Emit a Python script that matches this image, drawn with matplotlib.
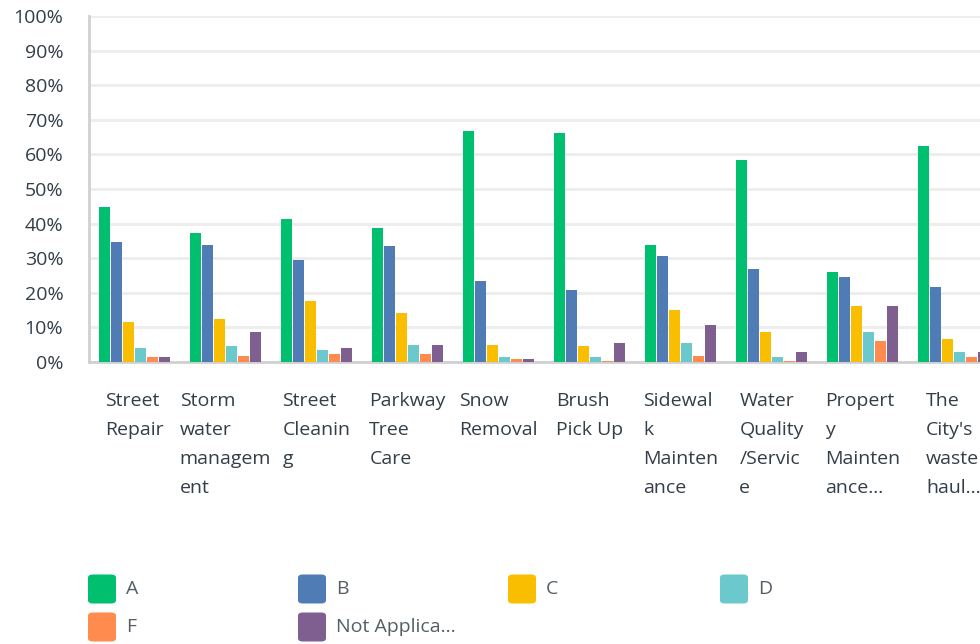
import matplotlib
matplotlib.use("Agg")
import matplotlib.pyplot as plt
import numpy as np
from matplotlib.patches import FancyBboxPatch

categories = ["Street\nRepair", "Storm\nwater\nmanagem\nent", "Street\nCleanin\ng",
              "Parkway\nTree\nCare", "Snow\nRemoval", "Brush\nPick Up",
              "Sidewal\nk\nMainten\nance", "Water\nQuality\n/Servic\ne",
              "Propert\ny\nMainten\nance…", "The\nCity's\nwaste\nhaul…"]
series_names = ["A", "B", "C", "D", "F", "Not Applica…"]
A = [44.9, 37.4, 41.2, 38.6, 66.8, 66.3, 33.7, 58.5, 25.9, 62.5]
B = [34.8, 33.7, 29.6, 33.4, 23.3, 20.7, 30.5, 27.0, 24.7, 21.8]
C = [11.7, 12.3, 17.5, 14.3, 4.8, 4.6, 14.9, 8.6, 16.3, 6.6]
D = [4.0, 4.6, 3.4, 4.8, 1.4, 1.4, 5.4, 1.4, 8.6, 2.9]
F = [1.4, 1.7, 2.3, 2.3, 0.8, 0.2, 1.7, 0.2, 6.0, 1.4]
NA = [1.4, 8.6, 4.0, 4.8, 0.8, 5.4, 10.6, 2.9, 16.1, 2.9]
yticks = [0, 10, 20, 30, 40, 50, 60, 70, 80, 90, 100]
colors = ["#00bf6f", "#507cb6", "#f9be00", "#6bc8cd", "#ff8b4f", "#7f5f90"]

plt.rcParams['font.family'] = ['Open Sans', 'DejaVu Sans']
fig = plt.figure(figsize=(9.8, 6.44), dpi=100)
W, H = 980, 644
ax = fig.add_axes([89 / W, 1 - 362 / H, 910 / W, 346 / H])

data = [A, B, C, D, F, NA]
x = np.arange(len(categories))
pitch = 0.13
width = 0.12
for i, (vals, col) in enumerate(zip(data, colors)):
    ax.bar(x + (i - 2.5) * pitch, vals, width=width, color=col, zorder=3)

ax.set_xlim(-0.5, len(categories) - 0.5)
ax.set_ylim(0, 100)
ax.set_yticks(yticks)
ax.set_yticklabels([f"{v}%" for v in yticks], fontsize=14, color="#333e48")
ax.yaxis.grid(True, color="#ededed", linewidth=2, zorder=0)
ax.set_axisbelow(True)
ax.tick_params(axis='y', length=0, pad=18.5)
ax.set_xticks(x)
ax.set_xticklabels(categories, fontsize=14, color="#333e48", linespacing=1.78,
                   multialignment='left', va='top')
ax.tick_params(axis='x', length=0, pad=21.5)
for s in ["top", "right"]:
    ax.spines[s].set_visible(False)
ax.spines["left"].set_color("#d0d0d0")
ax.spines["left"].set_linewidth(2)
ax.spines["bottom"].set_color("#d0d0d0")
ax.spines["bottom"].set_linewidth(2)

# legend
leg_x = [88, 298, 508, 720, 88, 298]
leg_y = [589, 589, 589, 589, 627, 627]
for name, col, lx, ly in zip(series_names, colors, leg_x, leg_y):
    w, h = 28, 29
    p = FancyBboxPatch((lx / W, 1 - (ly + h / 2) / H), w / W, h / H,
                       boxstyle="round,pad=0,rounding_size=0.005",
                       transform=fig.transFigure, facecolor=col, edgecolor='none')
    fig.patches.append(p)
    fig.text((lx + 38) / W, 1 - ly / H, name, fontsize=14, color="#555e66",
             va='center', ha='left')

fig.savefig("out.png", dpi=100)
